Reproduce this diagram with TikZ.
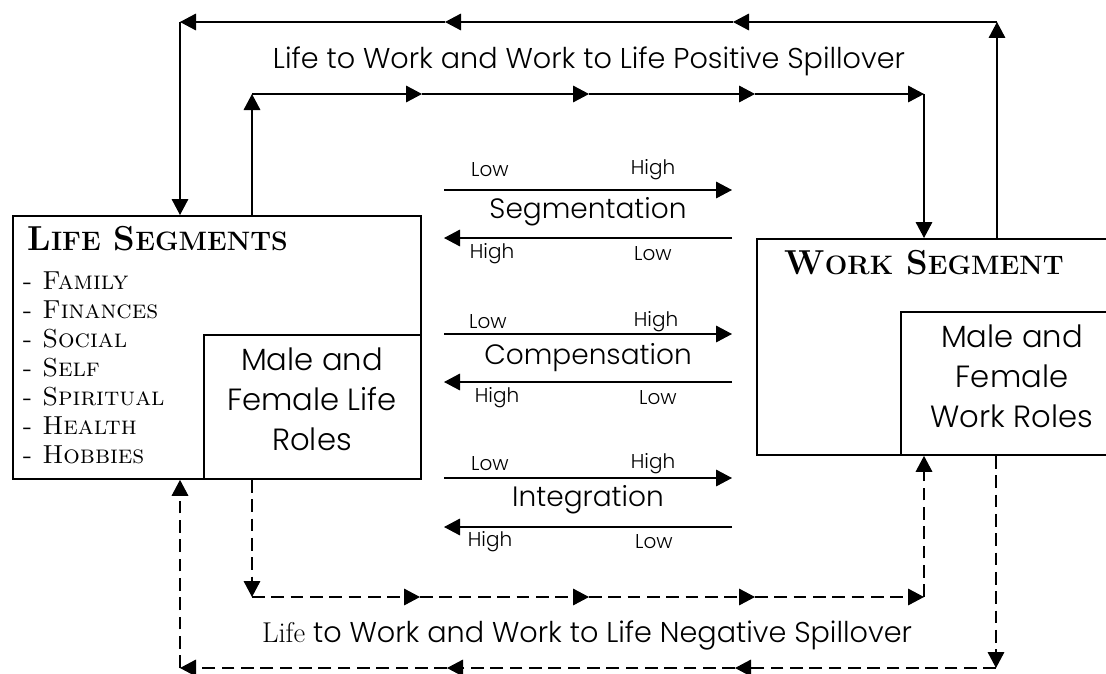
\documentclass[tikz,border=0pt]{standalone}
\usepackage{fontspec}
\newfontfamily\gothic{Poppins Light}
\usetikzlibrary{arrows.meta}

\newcommand\lowcaps[1]{{\fontsize{20}{24}\selectfont #1}}

\tikzset{every picture/.style={line width=0.9pt}}
\tikzset{
  box/.style={draw, line width=1.4pt, anchor=north west, inner sep=0pt},
  flow/.style={-{Triangle[length=12pt,width=12.5pt]}},
  negflow/.style={flow, dash pattern=on 9.5pt off 5pt},
  lowhigh/.style={inner sep=0.75pt, font=\gothic\fontsize{15}{18}\selectfont},
  modename/.style={inner sep=0.75pt, font=\gothic\fontsize{21}{25}\selectfont},
  spill/.style={inner sep=0.75pt, anchor=base, font=\gothic\fontsize{21.5}{25}\selectfont},
  roles/.style={align=center, inner sep=0pt, font=\gothic\fontsize{23}{30}\selectfont},
  segtitle/.style={anchor=base west, inner sep=0pt, font=\bfseries\fontsize{26}{30}\selectfont},
}

\begin{document}
\begin{tikzpicture}[x=0.75pt,y=0.75pt,yscale=-1,xscale=1]
\useasboundingbox (0,0) rectangle (1106,674);

%Shape: Rectangle [life box]
\node[box, minimum width=306pt, minimum height=197.25pt] (life) at (12,215) {};
\node[box, minimum width=162.75pt, minimum height=108pt] (liferoles) at (203,334) {};
%Shape: Rectangle [work box]
\node[box, minimum width=264pt, minimum height=162pt] (work) at (756,238) {};
\node[box, minimum width=156pt, minimum height=107.25pt] (workroles) at (900,311) {};

% Text Node
\node[segtitle] (lifetitle) at (27,250) {L\lowcaps{IFE} S\lowcaps{EGMENTS}};
\node[anchor=north west, align=left, inner sep=0pt, font=\scshape\fontsize{19.5}{21.75}\selectfont] (lifelist) at (22,271)
  {- Family\\- Finances\\- Social\\- Self\\- Spiritual\\- Health\\- Hobbies};
\node[roles] (liferolestxt) at (312,399) {Male and\\Female Life\\Roles};
% Text Node
\node[segtitle] (worktitle) at (784,274) {W\lowcaps{ORK} S\lowcaps{EGMENT}};
\node[roles] (workrolestxt) at (1012,376) {Male and\\Female\\Work Roles};

%Coordinates of the spillover loops
\coordinate (po1) at (997,22);  \coordinate (po2) at (733,22);
\coordinate (po3) at (445,22);  \coordinate (po4) at (180,22);
\coordinate (pi1) at (252,94);  \coordinate (pi2) at (422,94);
\coordinate (pi3) at (589,94);  \coordinate (pi4) at (755,94);
\coordinate (pi5) at (924,94);
\coordinate (ni1) at (252,597); \coordinate (ni2) at (420,597);
\coordinate (ni3) at (589,597); \coordinate (ni4) at (755,597);
\coordinate (ni5) at (924,597);
\coordinate (no1) at (996,668); \coordinate (no2) at (735,668);
\coordinate (no3) at (447,668); \coordinate (no4) at (180,668);

%Positive spillover, outer loop
\draw[flow] (work.north -| po1) -- (po1);
\draw[flow] (po1) -- (po2);
\draw[flow] (po2) -- (po3);
\draw[flow] (po3) -- (po4);
\draw[flow] (po4) -- (life.north -| po4);
%Positive spillover, inner loop
\draw[flow] (life.north -| pi1) -- (pi1);
\draw[flow] (pi1) -- (pi2);
\draw[flow] (pi2) -- (pi3);
\draw[flow] (pi3) -- (pi4);
\draw[flow] (pi4) -- (pi5);
\draw[flow] (pi5) -- (work.north -| pi5);

%Negative spillover, inner loop
\draw[negflow] (life.south -| ni1) -- (ni1);
\draw[negflow] (ni1) -- (ni2);
\draw[negflow] (ni2) -- (ni3);
\draw[negflow] (ni3) -- (ni4);
\draw[negflow] (ni4) -- (ni5);
\draw[negflow] (ni5) -- (work.south -| ni5);
%Negative spillover, outer loop
\draw[negflow] (work.south -| no1) -- (no1);
\draw[negflow] (no1) -- (no2);
\draw[negflow] (no2) -- (no3);
\draw[negflow] (no3) -- (no4);
\draw[negflow] (no4) -- (life.south -| no4);

% Text Node
\node[spill] (postxt) at (589,69) {Life to Work and Work to Life Positive Spillover};
\node[spill] (negtxt) at (587,642) {{\rmfamily Life} to Work and Work to Life Negative Spillover};

%Middle arrows
\coordinate (sa) at (444,190); \coordinate (sb) at (732,190);
\coordinate (sc) at (732,238); \coordinate (sd) at (444,238);
\coordinate (ca) at (444,334); \coordinate (cb) at (732,334);
\coordinate (cc) at (732,382); \coordinate (cd) at (444,382);
\coordinate (ia) at (444,478); \coordinate (ib) at (732,478);
\coordinate (ic) at (732,527); \coordinate (id) at (444,527);
\draw[flow] (sa) -- (sb);
\draw[flow] (sc) -- (sd);
\draw[flow] (ca) -- (cb);
\draw[flow] (cc) -- (cd);
\draw[flow] (ia) -- (ib);
\draw[flow] (ic) -- (id);

% Text Node
\node[modename] (segtxt) at (588,212) {Segmentation};
\node[modename] (comptxt) at (588,358) {Compensation};
\node[modename] (integtxt) at (588,500) {Integration};
% Text Node
\node[lowhigh] (seglow) at (490,170) {Low};
\node[lowhigh] (seghigh) at (653,170) {High};
\node[lowhigh] (seghigh2) at (492,254) {High};
\node[lowhigh] (seglow2) at (653,254) {Low};
\node[lowhigh] (complow) at (488,322) {Low};
\node[lowhigh] (comphigh) at (656,322) {High};
\node[lowhigh] (comphigh2) at (497,398) {High};
\node[lowhigh] (complow2) at (658,398) {Low};
\node[lowhigh] (integlow) at (490,464) {Low};
\node[lowhigh] (integhigh) at (653,464) {High};
\node[lowhigh] (integhigh2) at (490,542) {High};
\node[lowhigh] (integlow2) at (654,542) {Low};

\end{tikzpicture}
\end{document}
